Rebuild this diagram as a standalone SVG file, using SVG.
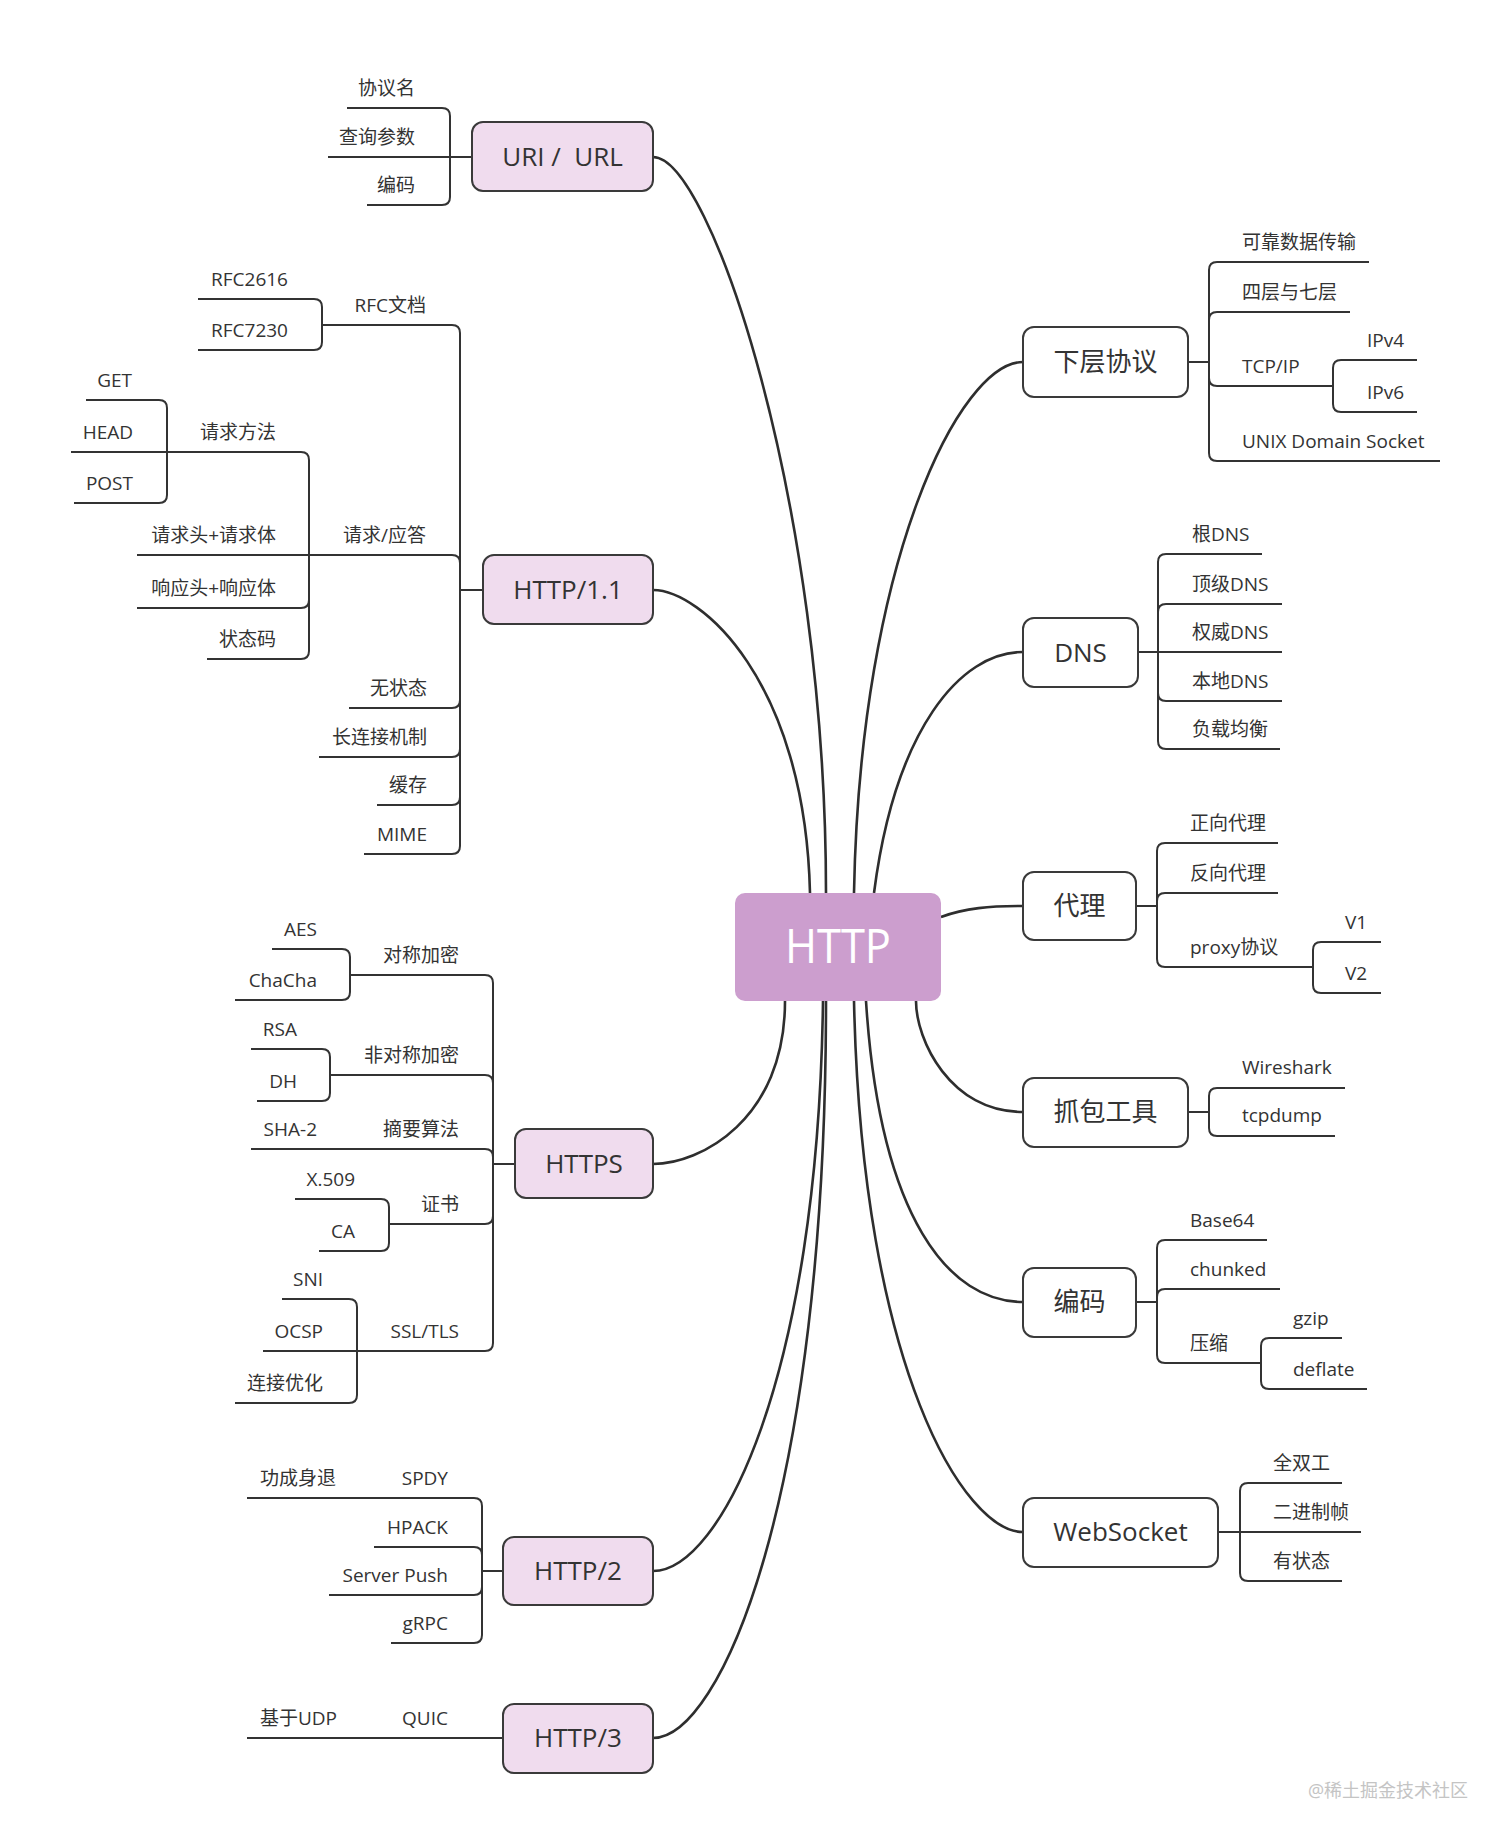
<svg xmlns="http://www.w3.org/2000/svg" width="1512" height="1844" viewBox="0 0 1512 1844">
<style>
text{font-family:"Open Sans","Noto Sans CJK SC",sans-serif;fill:#333;}
.t{font-size:19px;}
.e{text-anchor:end;}
.m{text-anchor:middle;font-size:26px;}
.pk{fill:#f0dcee;stroke:#3a3a3a;stroke-width:2;}
.wh{fill:#fff;stroke:#3a3a3a;stroke-width:2;}
.ln{fill:none;stroke:#333;stroke-width:2;}
.cv{fill:none;stroke:#2e2e2e;stroke-width:2.6;}
</style>
<rect width="1512" height="1844" fill="#fff"/>

<g id="connectors">
  <!-- main curves -->
  <path class="cv" d="M653,157 C710,157 826,500 826,893"/>
  <path class="cv" d="M653,590 C700,590 805,680 810,893"/>
  <path class="cv" d="M653,1164 C700,1164 785,1120 785,1001"/>
  <path class="cv" d="M653,1571 C720,1571 818,1380 823,1001"/>
  <path class="cv" d="M653,1738 C720,1738 826,1500 826,1001"/>
  <path class="cv" d="M1023,362 C960,362 860,560 854,893"/>
  <path class="cv" d="M1023,652 C960,652 895,730 874,893"/>
  <path class="cv" d="M941,917 C965,908 990,906 1023,906"/>
  <path class="cv" d="M1023,1112 C950,1112 916,1040 916,1001"/>
  <path class="cv" d="M1023,1302 C950,1302 880,1220 866,1001"/>
  <path class="cv" d="M1023,1532 C965,1532 862,1370 854,1001"/>

  <!-- URI / URL -->
  <path class="ln" d="M347,108 H442 Q450,108 450,116 V197 Q450,205 442,205 H367"/>
  <path class="ln" d="M328,157 H472"/>

  <!-- HTTP/1.1 -->
  <path class="ln" d="M483,590 H460"/>
  <path class="ln" d="M322,325 H452 Q460,325 460,333 V846 Q460,854 452,854 H364"/>
  <path class="ln" d="M309,555 H452 Q460,555 460,563"/>
  <path class="ln" d="M349,708 H452 Q460,708 460,700"/>
  <path class="ln" d="M319,757 H452 Q460,757 460,749"/>
  <path class="ln" d="M377,805 H452 Q460,805 460,797"/>
  <path class="ln" d="M198,299 H314 Q322,299 322,307 V342 Q322,350 314,350 H198"/>
  <path class="ln" d="M167,452 H301 Q309,452 309,460 V651 Q309,659 301,659 H207"/>
  <path class="ln" d="M137,555 H309"/>
  <path class="ln" d="M137,608 H301 Q309,608 309,600"/>
  <path class="ln" d="M86,400 H159 Q167,400 167,408 V495 Q167,503 159,503 H74"/>
  <path class="ln" d="M71,452 H167"/>

  <!-- HTTPS -->
  <path class="ln" d="M515,1164 H493"/>
  <path class="ln" d="M350,975 H485 Q493,975 493,983 V1343 Q493,1351 485,1351 H357"/>
  <path class="ln" d="M330,1075 H485 Q493,1075 493,1083"/>
  <path class="ln" d="M251,1149 H485 Q493,1149 493,1157"/>
  <path class="ln" d="M389,1224 H485 Q493,1224 493,1216"/>
  <path class="ln" d="M272,949 H342 Q350,949 350,957 V992 Q350,1000 342,1000 H235"/>
  <path class="ln" d="M251,1049 H322 Q330,1049 330,1057 V1093 Q330,1101 322,1101 H257"/>
  <path class="ln" d="M295,1199 H381 Q389,1199 389,1207 V1243 Q389,1251 381,1251 H319"/>
  <path class="ln" d="M282,1299 H349 Q357,1299 357,1307 V1395 Q357,1403 349,1403 H235"/>
  <path class="ln" d="M263,1351 H357"/>

  <!-- HTTP/2 -->
  <path class="ln" d="M503,1571 H482"/>
  <path class="ln" d="M247,1498 H474 Q482,1498 482,1506 V1635 Q482,1643 474,1643 H391"/>
  <path class="ln" d="M374,1547 H474 Q482,1547 482,1555"/>
  <path class="ln" d="M329,1595 H474 Q482,1595 482,1587"/>

  <!-- HTTP/3 -->
  <path class="ln" d="M247,1738 H503"/>

  <!-- 下层协议 -->
  <path class="ln" d="M1188,362 H1209"/>
  <path class="ln" d="M1369,262 H1217 Q1209,262 1209,270 V453 Q1209,461 1217,461 H1440"/>
  <path class="ln" d="M1350,312 H1217 Q1209,312 1209,320"/>
  <path class="ln" d="M1333,386 H1217 Q1209,386 1209,378"/>
  <path class="ln" d="M1417,360 H1341 Q1333,360 1333,368 V404 Q1333,412 1341,412 H1417"/>

  <!-- DNS -->
  <path class="ln" d="M1138,652 H1158"/>
  <path class="ln" d="M1262,554 H1166 Q1158,554 1158,562 V741 Q1158,749 1166,749 H1280"/>
  <path class="ln" d="M1282,604 H1166 Q1158,604 1158,612"/>
  <path class="ln" d="M1282,652 H1158"/>
  <path class="ln" d="M1282,701 H1166 Q1158,701 1158,693"/>

  <!-- 代理 -->
  <path class="ln" d="M1136,906 H1157"/>
  <path class="ln" d="M1278,843 H1165 Q1157,843 1157,851 V959 Q1157,967 1165,967 H1313"/>
  <path class="ln" d="M1278,893 H1165 Q1157,893 1157,901"/>
  <path class="ln" d="M1381,942 H1321 Q1313,942 1313,950 V985 Q1313,993 1321,993 H1381"/>

  <!-- 抓包工具 -->
  <path class="ln" d="M1188,1112 H1209"/>
  <path class="ln" d="M1345,1088 H1217 Q1209,1088 1209,1096 V1128 Q1209,1136 1217,1136 H1335"/>

  <!-- 编码 (right) -->
  <path class="ln" d="M1136,1302 H1157"/>
  <path class="ln" d="M1267,1240 H1165 Q1157,1240 1157,1248 V1355 Q1157,1363 1165,1363 H1261"/>
  <path class="ln" d="M1280,1289 H1165 Q1157,1289 1157,1297"/>
  <path class="ln" d="M1342,1338 H1269 Q1261,1338 1261,1346 V1381 Q1261,1389 1269,1389 H1367"/>

  <!-- WebSocket -->
  <path class="ln" d="M1218,1532 H1240"/>
  <path class="ln" d="M1342,1483 H1248 Q1240,1483 1240,1491 V1573 Q1240,1581 1248,1581 H1342"/>
  <path class="ln" d="M1240,1532 H1361"/>
</g>

<!-- center -->
<g id="n-http">
  <rect x="735" y="893" width="206" height="108" rx="10" fill="#cc9ece"/>
  <text x="838" y="963" text-anchor="middle" font-size="48" style="fill:#fff" textLength="106" lengthAdjust="spacingAndGlyphs">HTTP</text>
</g>

<!-- main topics left -->
<g id="n-uri"><rect class="pk" x="472" y="122" width="181" height="69" rx="11"/><text class="m" x="562.5" y="166" xml:space="preserve">URI /  URL</text></g>
<g id="n-http11"><rect class="pk" x="483" y="555" width="170" height="69" rx="11"/><text class="m" x="568" y="599">HTTP/1.1</text></g>
<g id="n-https"><rect class="pk" x="515" y="1129" width="138" height="69" rx="11"/><text class="m" x="584" y="1173">HTTPS</text></g>
<g id="n-http2"><rect class="pk" x="503" y="1537" width="150" height="68" rx="11"/><text class="m" x="578" y="1580">HTTP/2</text></g>
<g id="n-http3"><rect class="pk" x="503" y="1704" width="150" height="69" rx="11"/><text class="m" x="578" y="1747">HTTP/3</text></g>

<!-- main topics right -->
<g id="n-lower"><rect class="wh" x="1023" y="327" width="165" height="70" rx="11"/><text class="m" x="1105.5" y="371">下层协议</text></g>
<g id="n-dns"><rect class="wh" x="1023" y="618" width="115" height="69" rx="11"/><text class="m" x="1080.5" y="662">DNS</text></g>
<g id="n-proxy"><rect class="wh" x="1023" y="872" width="113" height="68" rx="11"/><text class="m" x="1079.5" y="915">代理</text></g>
<g id="n-capture"><rect class="wh" x="1023" y="1078" width="165" height="69" rx="11"/><text class="m" x="1105.5" y="1121">抓包工具</text></g>
<g id="n-encoding"><rect class="wh" x="1023" y="1268" width="113" height="69" rx="11"/><text class="m" x="1079.5" y="1311">编码</text></g>
<g id="n-websocket"><rect class="wh" x="1023" y="1498" width="195" height="69" rx="11"/><text class="m" x="1120.5" y="1541">WebSocket</text></g>

<!-- URI children -->
<g id="n-uri-1"><text class="t e" x="415" y="95">协议名</text></g>
<g id="n-uri-2"><text class="t e" x="415" y="144">查询参数</text></g>
<g id="n-uri-3"><text class="t e" x="415" y="192">编码</text></g>

<!-- HTTP/1.1 children -->
<g id="n-rfc"><text class="t e" x="426" y="312">RFC文档</text></g>
<g id="n-rfc2616"><text class="t e" x="288" y="286">RFC2616</text></g>
<g id="n-rfc7230"><text class="t e" x="288" y="337">RFC7230</text></g>
<g id="n-reqresp"><text class="t e" x="426" y="542">请求/应答</text></g>
<g id="n-method"><text class="t e" x="276" y="439">请求方法</text></g>
<g id="n-get"><text class="t e" x="132" y="387">GET</text></g>
<g id="n-head"><text class="t e" x="133" y="439">HEAD</text></g>
<g id="n-post"><text class="t e" x="133" y="490">POST</text></g>
<g id="n-reqhead"><text class="t e" x="276" y="542">请求头+请求体</text></g>
<g id="n-resphead"><text class="t e" x="276" y="595">响应头+响应体</text></g>
<g id="n-status"><text class="t e" x="276" y="646">状态码</text></g>
<g id="n-stateless"><text class="t e" x="427" y="695">无状态</text></g>
<g id="n-keepalive"><text class="t e" x="427" y="744">长连接机制</text></g>
<g id="n-cache"><text class="t e" x="427" y="792">缓存</text></g>
<g id="n-mime"><text class="t e" x="427" y="841">MIME</text></g>

<!-- HTTPS children -->
<g id="n-sym"><text class="t e" x="459" y="962">对称加密</text></g>
<g id="n-aes"><text class="t e" x="317" y="936">AES</text></g>
<g id="n-chacha"><text class="t e" x="317" y="987">ChaCha</text></g>
<g id="n-asym"><text class="t e" x="459" y="1062">非对称加密</text></g>
<g id="n-rsa"><text class="t e" x="297" y="1036">RSA</text></g>
<g id="n-dh"><text class="t e" x="297" y="1088">DH</text></g>
<g id="n-digest"><text class="t e" x="459" y="1136">摘要算法</text></g>
<g id="n-sha2"><text class="t e" x="317" y="1136">SHA-2</text></g>
<g id="n-cert"><text class="t e" x="459" y="1211">证书</text></g>
<g id="n-x509"><text class="t e" x="355" y="1186">X.509</text></g>
<g id="n-ca"><text class="t e" x="355" y="1238">CA</text></g>
<g id="n-ssl"><text class="t e" x="459" y="1338">SSL/TLS</text></g>
<g id="n-sni"><text class="t e" x="323" y="1286">SNI</text></g>
<g id="n-ocsp"><text class="t e" x="323" y="1338">OCSP</text></g>
<g id="n-connopt"><text class="t e" x="323" y="1390">连接优化</text></g>

<!-- HTTP/2 children -->
<g id="n-spdy"><text class="t e" x="448" y="1485">SPDY</text></g>
<g id="n-retired"><text class="t e" x="336" y="1485">功成身退</text></g>
<g id="n-hpack"><text class="t e" x="448" y="1534">HPACK</text></g>
<g id="n-push"><text class="t e" x="448" y="1582">Server Push</text></g>
<g id="n-grpc"><text class="t e" x="448" y="1630">gRPC</text></g>

<!-- HTTP/3 children -->
<g id="n-quic"><text class="t e" x="448" y="1725">QUIC</text></g>
<g id="n-udp"><text class="t e" x="337" y="1725">基于UDP</text></g>

<!-- 下层协议 children -->
<g id="n-reliable"><text class="t" x="1242" y="249">可靠数据传输</text></g>
<g id="n-layers"><text class="t" x="1242" y="299">四层与七层</text></g>
<g id="n-tcpip"><text class="t" x="1242" y="373">TCP/IP</text></g>
<g id="n-ipv4"><text class="t" x="1367" y="347">IPv4</text></g>
<g id="n-ipv6"><text class="t" x="1367" y="399">IPv6</text></g>
<g id="n-unix"><text class="t" x="1242" y="448">UNIX Domain Socket</text></g>

<!-- DNS children -->
<g id="n-rootdns"><text class="t" x="1192" y="541">根DNS</text></g>
<g id="n-tlddns"><text class="t" x="1192" y="591">顶级DNS</text></g>
<g id="n-authdns"><text class="t" x="1192" y="639">权威DNS</text></g>
<g id="n-localdns"><text class="t" x="1192" y="688">本地DNS</text></g>
<g id="n-lb"><text class="t" x="1192" y="736">负载均衡</text></g>

<!-- 代理 children -->
<g id="n-fwd"><text class="t" x="1190" y="830">正向代理</text></g>
<g id="n-rev"><text class="t" x="1190" y="880">反向代理</text></g>
<g id="n-proxyproto"><text class="t" x="1190" y="954">proxy协议</text></g>
<g id="n-v1"><text class="t" x="1345" y="929">V1</text></g>
<g id="n-v2"><text class="t" x="1345" y="980">V2</text></g>

<!-- 抓包工具 children -->
<g id="n-wireshark"><text class="t" x="1242" y="1074">Wireshark</text></g>
<g id="n-tcpdump"><text class="t" x="1242" y="1122">tcpdump</text></g>

<!-- 编码 children -->
<g id="n-base64"><text class="t" x="1190" y="1227">Base64</text></g>
<g id="n-chunked"><text class="t" x="1190" y="1276">chunked</text></g>
<g id="n-compress"><text class="t" x="1190" y="1350">压缩</text></g>
<g id="n-gzip"><text class="t" x="1293" y="1325">gzip</text></g>
<g id="n-deflate"><text class="t" x="1293" y="1376">deflate</text></g>

<!-- WebSocket children -->
<g id="n-duplex"><text class="t" x="1273" y="1470">全双工</text></g>
<g id="n-binary"><text class="t" x="1273" y="1519">二进制帧</text></g>
<g id="n-stateful"><text class="t" x="1273" y="1568">有状态</text></g>

<text x="1308" y="1797" font-size="18" style="fill:#c4c4c4" textLength="160" lengthAdjust="spacingAndGlyphs">@稀土掘金技术社区</text>
</svg>
